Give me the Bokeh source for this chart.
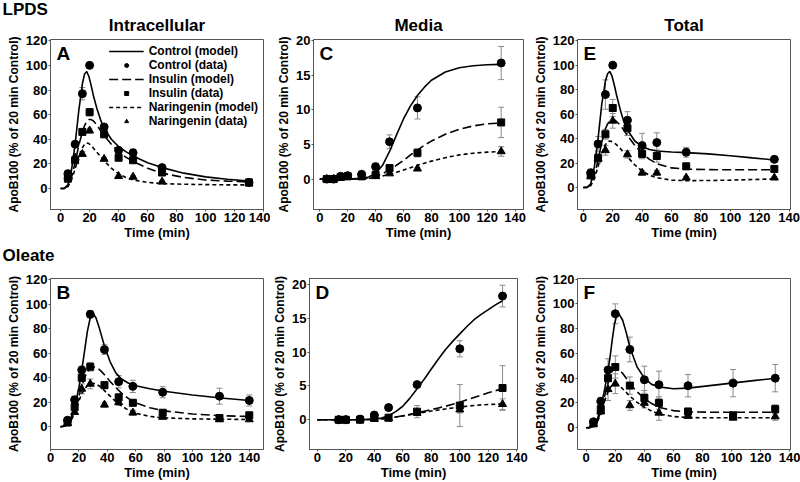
from bokeh.plotting import figure
from bokeh.layouts import row, column
from bokeh.models import (Range1d, Label, Legend, LegendItem, Whisker, ColumnDataSource,
                          TeeHead, FixedTicker, Title)
from bokeh.embed import file_html
from bokeh.resources import INLINE

FONT = "Liberation Sans"
ERR = "#8a8a8a"
FRAME = "#555555"

# ---------------- LPDS ----------------
# A: Intracellular
tA = [5, 10, 15, 20, 30, 40, 50, 70, 130]
ctrlA = [12, 36, 77, 100, 50, 31, 29, 17, 5]
ctrlA_err = [3, 2, 5, 0, 2, 2, 3, 2, 1]
insA = [8, 23, 46, 62, 44, 25, 23, 13, 5]
insA_err = [2, 2, 2, 3, 2, 2, 2, 2, 1]
narA = [10, 25, 28, 47, 24, 10, 9.5, 5.5, 4]
narA_err = [2, 2, 2, 2, 1, 1, 1, 1, 1]

gridG = [0, 2.5, 5, 7.5, 10, 12.5, 15, 16.5, 18, 19.5, 21, 22.5, 25, 27.5, 30, 35, 40, 45, 50, 60, 70, 85, 100, 115, 130]
mCtrlA = [0, 0.2, 3, 15, 36, 63, 85, 93, 95, 91, 84, 76, 65, 56, 49, 40, 34, 30, 26.5, 21, 17, 12.5, 9.5, 7.5, 6]
mInsA = [0, 0.1, 2, 9, 21, 35, 46, 51, 54.5, 56, 56, 55, 51.5, 47, 43, 36, 30, 25.5, 22, 16.5, 12.5, 9, 7, 6, 5.5]
mNarA = [0, 0.1, 1.5, 7, 16, 26, 33, 36, 37, 36.5, 35, 33, 29.5, 26, 22.5, 16.5, 12, 9, 7, 5, 4, 3.5, 3.2, 3, 3]

# C: Media
tC = [5, 10, 15, 20, 30, 40, 50, 70, 130]
ctrlC = [0, 0, 0.4, 0.5, 0.7, 1.8, 5.4, 10.3, 16.8]
ctrlC_err = [0.1, 0.1, 0.1, 0.2, 0.3, 0.5, 1.0, 1.6, 2.4]
insC = [0, 0, 0.3, 0.4, 0.4, 0.6, 1.6, 3.8, 8.2]
insC_err = [0.1, 0.1, 0.1, 0.1, 0.2, 0.2, 0.3, 0.6, 2.2]
narC = [0, 0, 0.2, 0.3, 0.3, 0.4, 0.8, 1.5, 4.0]
narC_err = [0.1, 0.1, 0.1, 0.1, 0.1, 0.1, 0.2, 0.2, 0.7]

gridC = [0, 20, 30, 35, 40, 45, 50, 55, 60, 65, 70, 75, 80, 90, 100, 110, 120, 130]
mCtrlC = [0, 0, 0.1, 0.3, 0.8, 2.0, 4.0, 6.4, 8.7, 10.6, 12.1, 13.3, 14.3, 15.5, 16.1, 16.4, 16.55, 16.6]
mInsC = [0, 0, 0.05, 0.15, 0.4, 0.8, 1.3, 2.0, 2.7, 3.5, 4.2, 4.9, 5.5, 6.5, 7.2, 7.7, 8.0, 8.1]
mNarC = [0, 0, 0.02, 0.1, 0.25, 0.45, 0.7, 1.0, 1.3, 1.65, 2.0, 2.3, 2.6, 3.1, 3.5, 3.75, 3.9, 4.0]

# E: Total
tE = [5, 10, 15, 20, 30, 40, 50, 70, 130]
ctrlE = [12, 35.6, 76, 100, 55, 34.3, 36.7, 28.8, 23]
ctrlE_err = [3, 6, 12, 0, 7, 10, 8, 4, 2]
insE = [10.5, 24, 43.5, 65, 48.5, 27.5, 25.7, 17.3, 15.2]
insE_err = [2, 4, 4, 7, 6, 4, 5, 1.5, 2]
narE = [9, 23.6, 30.4, 54.5, 27, 12, 12, 8, 8]
narE_err = [2, 3, 4, 6, 3, 2, 2, 1, 1]

mCtrlE = [0, 0.2, 3, 17, 40, 68, 87, 93, 95, 91, 84, 76, 64, 54, 47, 38, 33.5, 31, 29.8, 29, 28.5, 27.5, 26, 24.2, 22.5]
mInsE = [0, 0.1, 2, 10, 22, 37, 48, 52, 54.5, 55.5, 55.5, 54, 51, 47, 42.5, 34.5, 28, 23, 19.5, 16, 15, 14.6, 14.5, 14.5, 14.5]
mNarE = [0, 0.1, 1.5, 7, 17, 28, 35, 37.5, 38, 37.5, 36.5, 35, 32, 28.5, 25, 18.5, 13.5, 10, 8, 6, 5.6, 5.7, 6, 6.5, 7]

# ---------------- Oleate ----------------
# B: Intracellular
tB = [12, 17, 22, 28, 38, 48, 58, 79, 119, 140]
ctrlB = [5.4, 22, 46.4, 91.8, 63, 36.8, 33, 28.2, 25, 21.5]
ctrlB_err = [1.5, 3, 3, 3, 4, 5, 5, 4.5, 6.5, 4.5]
insB = [3.5, 16, 40, 49, 34, 24, 19.6, 11.5, 7.2, 9.4]
insB_err = [1, 2, 3, 3.5, 3, 3, 2.5, 2, 1.5, 2]
narB = [3, 12, 31, 35, 18, 20, 11.5, 8, 6, 6]
narB_err = [1, 2, 4, 4, 2, 2.5, 2, 1, 1, 1]

gridB = [7, 10, 12, 14, 17, 20, 22, 24, 26, 28, 30, 32, 34, 36, 38, 42, 46, 50, 55, 60, 70, 80, 100, 120, 140]
mCtrlB = [0, 0.8, 2.5, 6, 16, 32, 46, 62, 78, 89, 92.5, 89, 82, 74, 66, 53, 44, 39, 35.5, 33.5, 31, 29, 26, 23.5, 21.5]
mInsB = [0, 0.5, 2, 5, 13, 25, 33, 40, 45, 48, 49, 48.5, 47, 45, 42.5, 37, 32, 27.5, 23, 19.5, 15.5, 13, 10.5, 9, 8.5]
mNarB = [0, 0.5, 1.5, 4, 11, 21, 27, 31, 33.5, 35, 35.5, 35, 33.5, 32, 29.5, 25, 20.5, 17, 13.5, 11, 8.5, 7.3, 6.5, 6.2, 6]

# D: Media
tD = [15, 20, 30, 40, 50, 70, 100, 130]
ctrlD = [0, 0, 0.1, 0.7, 1.8, 5.2, 10.5, 18.3]
ctrlD_err = [0.1, 0.1, 0.1, 0.4, 0.4, 0.4, 1.2, 1.6]
insD = [0, 0, 0, 0.3, 0.3, 1.2, 2.1, 4.7]
insD_err = [0.1, 0.1, 0.1, 0.1, 0.2, 0.9, 3.1, 3.3]
narD = [0, 0, 0, 0.1, 0.2, 1.0, 1.5, 2.3]
narD_err = [0.1, 0.1, 0.1, 0.1, 0.1, 0.3, 0.5, 0.8]

gridD = [0, 20, 30, 40, 45, 50, 55, 60, 65, 70, 75, 80, 85, 90, 95, 100, 105, 110, 115, 120, 125, 130]
mCtrlD = [0, 0, 0, 0.1, 0.25, 0.6, 1.2, 2.0, 3.2, 4.6, 6.0, 7.5, 9.0, 10.4, 11.6, 12.7, 13.8, 14.8, 15.6, 16.3, 17.0, 17.6]
mInsD = [0, 0, 0, 0.05, 0.12, 0.25, 0.4, 0.6, 0.8, 1.0, 1.25, 1.5, 1.75, 2.0, 2.3, 2.6, 2.95, 3.3, 3.65, 4.0, 4.3, 4.6]
mNarD = [0, 0, 0, 0.05, 0.12, 0.25, 0.4, 0.55, 0.75, 0.95, 1.1, 1.3, 1.45, 1.6, 1.75, 1.9, 2.0, 2.1, 2.2, 2.25, 2.3, 2.35]

# F: Total
tF = [5, 10, 15, 20, 30, 40, 50, 70, 101, 130]
ctrlF = [4.8, 21.3, 46.7, 92, 63.2, 38.7, 34.7, 33.9, 36, 40]
ctrlF_err = [2, 3, 9, 8, 10, 11, 11, 9, 11, 11]
insF = [3.5, 15, 40, 49, 34, 24, 20, 13, 10, 15]
insF_err = [1, 2, 7, 9, 7, 6, 5, 3, 1.5, 3.5]
narF = [3, 13, 31, 35.5, 18, 20, 12, 9.5, 8, 9]
narF_err = [1, 2, 9, 8, 4, 4, 6, 2, 2, 3]

mCtrlF = [0, 0.3, 1.5, 6, 17, 30, 46, 58, 72, 84, 91, 92, 87, 77, 65, 49, 40, 35, 33, 31.5, 32, 34, 36, 38, 40]
mInsF = [0, 0.1, 1, 5, 13, 25, 36, 42, 46, 48, 48, 47, 44, 40, 35.5, 29, 23.5, 19.5, 16.5, 13.8, 12.8, 12.5, 12.5, 12.5, 12.5]
mNarF = [0, 0.1, 1, 4.5, 11, 21, 29, 32.5, 34.5, 35, 35, 34, 31.5, 28.5, 25.5, 20.5, 16.5, 13.5, 11, 9, 8.2, 8, 8, 8, 8]

XTICKS = [0, 20, 40, 60, 80, 100, 120, 140]
YTICKS_BIG = [0, 20, 40, 60, 80, 100, 120]
YTICKS_SMALL = [0, 5, 10, 15, 20]

STYLES = [
    ("Control", "circle", 8, "solid"),
    ("Insulin", "square", 7, "9 4"),
    ("Naringenin", "triangle", 8, "4 3"),
]


def make_title(text, align, standoff, offset=0, fallback_standoff=0):
    kw = dict(text=text, align=align, offset=offset, vertical_align="middle",
              text_font=FONT, text_font_size="17px", text_font_style="bold",
              text_color="black")
    try:
        return Title(standoff=standoff, **kw)
    except Exception:
        return Title(standoff=fallback_standoff, **kw)


def panel(w, h, bl, br, bt, bb, xr, yr, yticks, t, data, grid, models, letter, legend=False):
    p = figure(width=w, height=h, x_range=Range1d(*xr), y_range=Range1d(*yr),
               output_backend="svg", toolbar_location=None, title=None,
               min_border_left=bl, min_border_right=br, min_border_top=bt, min_border_bottom=bb)
    p.background_fill_color = "white"
    p.border_fill_color = "white"
    p.outline_line_color = FRAME
    p.outline_line_width = 1
    p.xgrid.visible = False
    p.ygrid.visible = False
    for ax, ticks in ((p.xaxis[0], XTICKS), (p.yaxis[0], yticks)):
        ax.ticker = FixedTicker(ticks=ticks)
        ax.minor_tick_line_color = None
        ax.major_tick_in = 0
        ax.major_tick_out = 2
        ax.major_label_standoff = 1
        ax.axis_line_color = FRAME
        ax.major_tick_line_color = FRAME
        ax.major_label_text_font = FONT
        ax.major_label_text_font_size = "13px"
        ax.major_label_text_font_style = "bold"
        ax.major_label_text_color = "black"
        ax.axis_label_text_font = FONT
        ax.axis_label_text_font_style = "bold"
        ax.axis_label_text_color = "black"
    p.xaxis.axis_label = "Time (min)"
    p.xaxis.axis_label_text_font_size = "13px"
    p.xaxis.axis_label_standoff = 0
    p.yaxis.axis_label = "ApoB100 (% of 20 min Control)"
    p.yaxis.axis_label_text_font_size = "12px"
    p.yaxis.axis_label_standoff = 2

    items = []
    for (name, marker, size, dash), (vals, errs), mvals in zip(STYLES, data, models):
        ln = p.line(grid, mvals, line_color="black", line_width=1.6, line_dash=dash)
        src = ColumnDataSource(dict(x=t, y=vals,
                                    lo=[v - e for v, e in zip(vals, errs)],
                                    hi=[v + e for v, e in zip(vals, errs)]))
        sc = p.scatter("x", "y", source=src, marker=marker, size=size,
                       fill_color="black", line_color="black")
        wk = Whisker(source=src, base="x", upper="hi", lower="lo", line_color=ERR, line_width=1,
                     upper_head=TeeHead(size=6, line_color=ERR, line_width=1),
                     lower_head=TeeHead(size=6, line_color=ERR, line_width=1))
        p.add_layout(wk)
        items.append(LegendItem(label=f"{name} (model)", renderers=[ln]))
        items.append(LegendItem(label=f"{name} (data)", renderers=[sc]))

    p.add_layout(Label(x=6, y=yr[1], x_units="screen", y_units="data", text=letter,
                       text_font=FONT, text_font_size="19px", text_font_style="bold",
                       text_color="black", text_baseline="top", y_offset=-3))
    if legend:
        lg = Legend(items=items, location="top_right", border_line_alpha=0,
                    background_fill_alpha=0, label_text_font=FONT,
                    label_text_font_size="12px", label_text_font_style="bold",
                    label_text_color="black",
                    glyph_width=35, glyph_height=10, label_height=10, spacing=0,
                    padding=2, margin=3, label_standoff=5, label_text_line_height=1.0)
        p.add_layout(lg)
    return p


TOP_H, BOT_H = 268, 214

pA = panel(270, TOP_H, 50, 7, 39, 57, (-7, 140), (-17, 121), YTICKS_BIG, tA,
           [(ctrlA, ctrlA_err), (insA, insA_err), (narA, narA_err)], gridG,
           [mCtrlA, mInsA, mNarA], "A", legend=True)
pC = panel(260, TOP_H, 43, 7, 39, 57, (-4.5, 146), (-4.4, 20.2), YTICKS_SMALL, tC,
           [(ctrlC, ctrlC_err), (insC, insC_err), (narC, narC_err)], gridC,
           [mCtrlC, mInsC, mNarC], "C")
pE = panel(270, TOP_H, 42, 10, 39, 57, (-4, 141), (-18, 121), YTICKS_BIG, tE,
           [(ctrlE, ctrlE_err), (insE, insE_err), (narE, narE_err)], gridG,
           [mCtrlE, mInsE, mNarE], "E")

pB = panel(270, BOT_H, 50, 7, 10, 31, (0, 150), (-18.5, 121), YTICKS_BIG, tB,
           [(ctrlB, ctrlB_err), (insB, insB_err), (narB, narB_err)], gridB,
           [mCtrlB, mInsB, mNarB], "B")
pD = panel(260, BOT_H, 37, 13, 10, 31, (-5.5, 140.5), (-4.4, 20.9), YTICKS_SMALL, tD,
           [(ctrlD, ctrlD_err), (insD, insD_err), (narD, narD_err)], gridD,
           [mCtrlD, mInsD, mNarD], "D")
pF = panel(270, BOT_H, 39, 10, 10, 31, (-6, 140.5), (-17.6, 120.5), YTICKS_BIG, tF,
           [(ctrlF, ctrlF_err), (insF, insF_err), (narF, narF_err)], gridG,
           [mCtrlF, mInsF, mNarF], "F")

# column titles (inner) and the "LPDS" row heading (outer, shifted left over the axis area)
pA.add_layout(make_title("Intracellular", "center", 6.5), "above")
pA.add_layout(make_title("LPDS", "left", -17.5, offset=-48, fallback_standoff=0), "above")
pC.add_layout(make_title("Media", "center", 6.5), "above")
pE.add_layout(make_title("Total", "center", 6.5), "above")
# "Oleate" row heading sits below panel A's axis, just above panel B
pA.add_layout(make_title("Oleate", "left", 4.5, offset=-48), "below")

layout = column(row(pA, pC, pE), row(pB, pD, pF))

open("out.html", "w").write(file_html(layout, INLINE))
